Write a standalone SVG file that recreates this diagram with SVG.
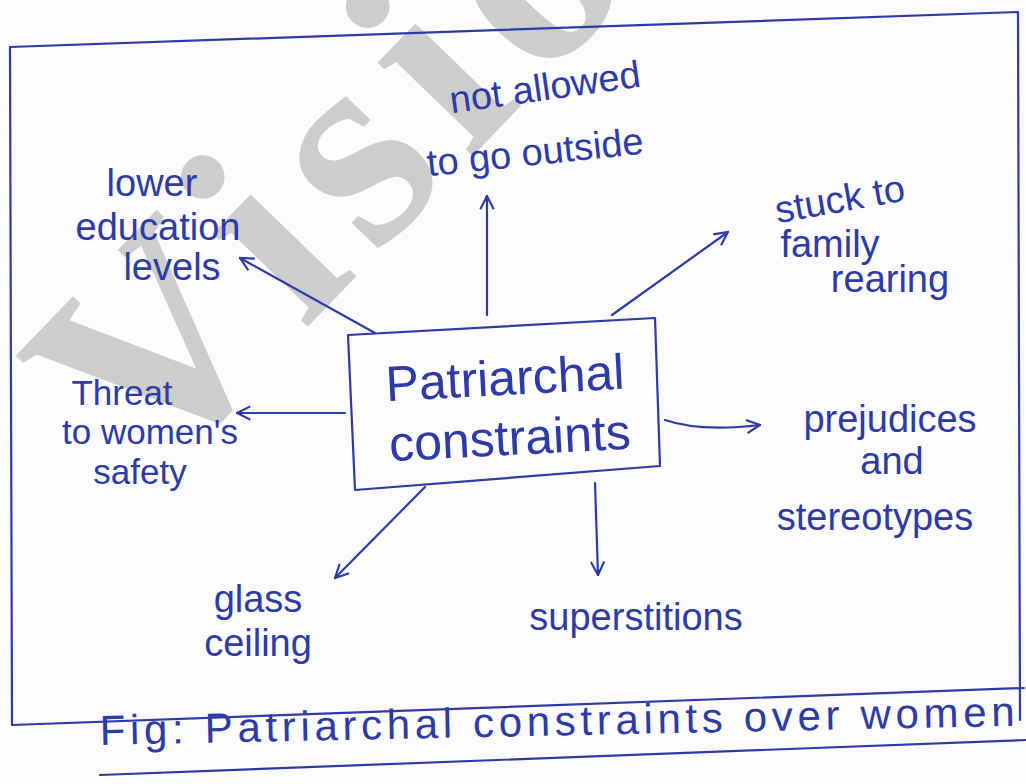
<svg xmlns="http://www.w3.org/2000/svg" width="1026" height="784" viewBox="0 0 1026 784">
<style>
.ink{fill:none;stroke:#2c3ba6;stroke-width:2.2;stroke-linecap:round;stroke-linejoin:round}
.t{font-family:"Liberation Sans",Arial,sans-serif;fill:#2c3ba6;font-size:38px;text-anchor:middle}
.big{font-size:50px}
.sm{font-size:35px}
.wm{font-family:"Liberation Serif",serif;font-weight:bold;fill:#cdcdcd;font-size:290px;letter-spacing:22px}
</style>
<defs>
<marker id="ah" viewBox="0 0 12 12" refX="11" refY="6" markerWidth="16" markerHeight="16" markerUnits="userSpaceOnUse" orient="auto">
<path d="M1,1 L11,6 L1,11" fill="none" stroke="#2c3ba6" stroke-width="1.6"/>
</marker>
</defs>
<rect width="1026" height="784" fill="#fdfbfd"/>
<text class="wm" transform="translate(150,490) rotate(-46)">Vision</text>
<g id="frame">
<path class="ink" d="M10,47 L1018,12 M10,47 L12,725 M1018,12 L1020,720 M12,725 L1024,688 M100,775 L1026,740"/>
</g>
<g id="center">
<path class="ink" d="M348,335 L655,318 L660,466 L355,490 Z"/>
<text class="t big" x="505" y="395" transform="rotate(-3 505 380)">Patriarchal</text>
<text class="t big" x="510" y="455" transform="rotate(-3 510 440)">constraints</text>
</g>
<g id="n-outside">
<text class="t" x="545" y="100" transform="rotate(-8 545 88)">not allowed</text>
<text class="t" x="535" y="165" transform="rotate(-6 535 152)">to go outside</text>
</g>
<g id="n-education">
<text class="t" x="152" y="196">lower</text>
<text class="t" x="158" y="240">education</text>
<text class="t" x="172" y="280">levels</text>
</g>
<g id="n-family">
<text class="t" x="840" y="212" transform="rotate(-10 840 200)">stuck to</text>
<text class="t" x="830" y="257">family</text>
<text class="t" x="890" y="292">rearing</text>
</g>
<g id="n-safety">
<text class="t sm" x="122" y="405">Threat</text>
<text class="t sm" x="150" y="444">to women's</text>
<text class="t sm" x="140" y="484">safety</text>
</g>
<g id="n-prejudices">
<text class="t" x="890" y="432">prejudices</text>
<text class="t" x="892" y="474">and</text>
<text class="t" x="875" y="530">stereotypes</text>
</g>
<g id="n-glass">
<text class="t" x="258" y="612">glass</text>
<text class="t" x="258" y="656">ceiling</text>
</g>
<g id="n-superstitions">
<text class="t" x="636" y="630">superstitions</text>
</g>
<g id="connectors">
<path class="ink" marker-end="url(#ah)" d="M487,315 L487,196"/>
<path class="ink" marker-end="url(#ah)" d="M375,333 L240,258"/>
<path class="ink" marker-end="url(#ah)" d="M612,315 L728,232"/>
<path class="ink" marker-end="url(#ah)" d="M345,413 L237,413"/>
<path class="ink" marker-end="url(#ah)" d="M665,420 Q700,432 760,425"/>
<path class="ink" marker-end="url(#ah)" d="M425,487 L335,578"/>
<path class="ink" marker-end="url(#ah)" d="M595,483 L598,575"/>
</g>
<g id="caption">
<text class="t" x="100" y="745" style="text-anchor:start;font-size:42px" textLength="915" transform="rotate(-1.2 100 745)">Fig: Patriarchal constraints over women</text>
</g>
</svg>
